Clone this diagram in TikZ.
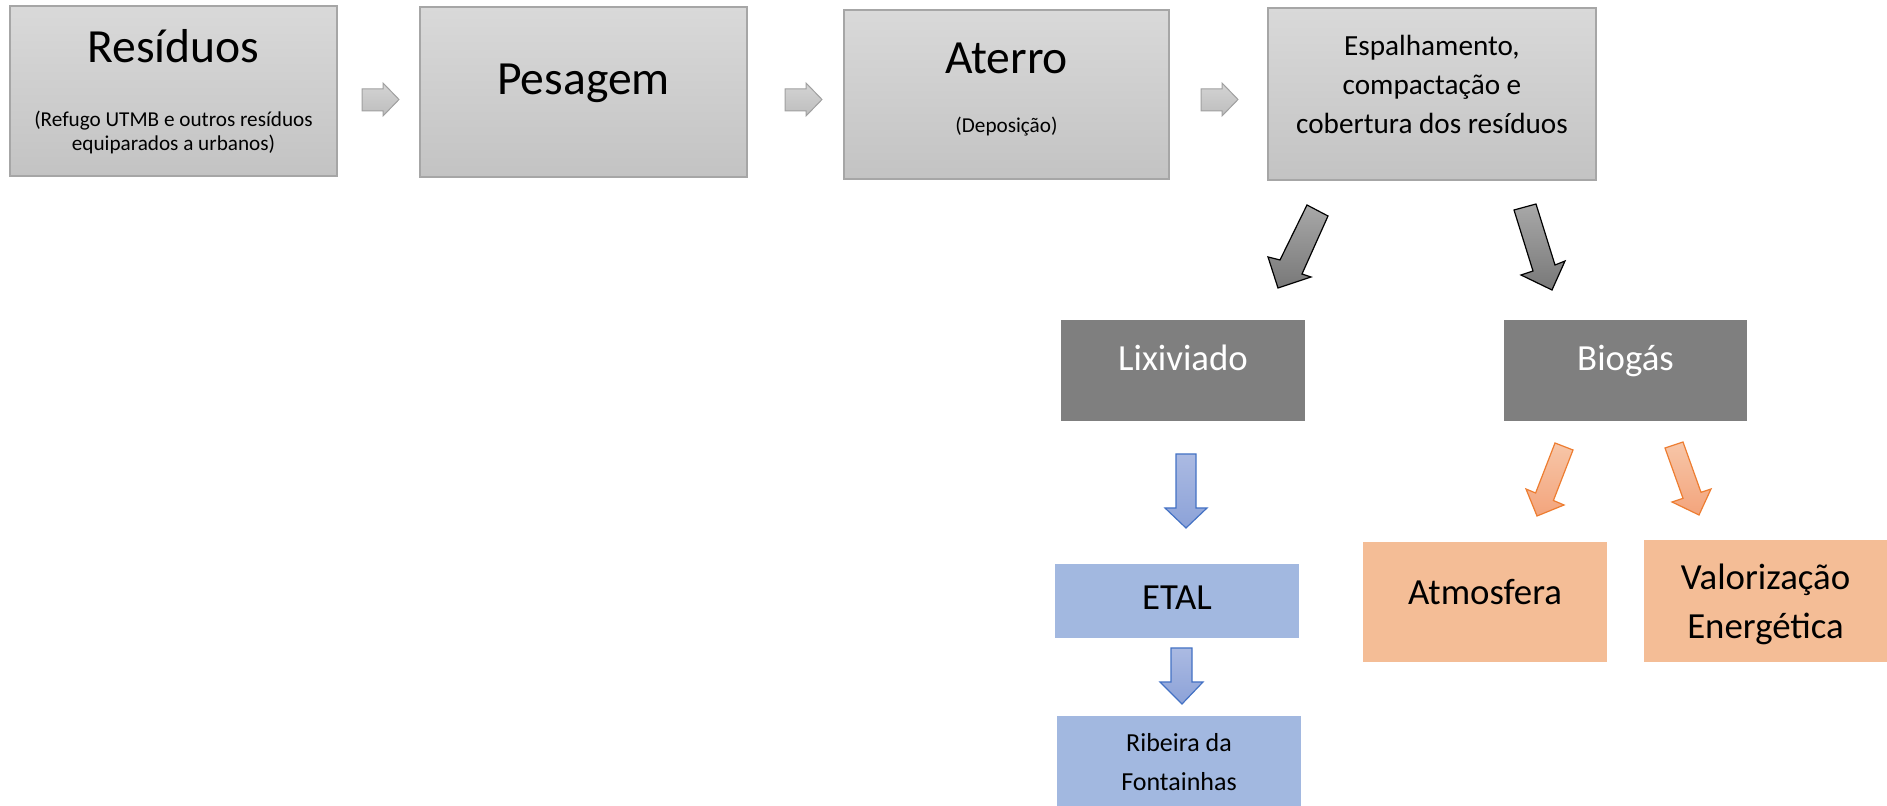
\documentclass[tikz,border=0pt]{standalone}
\usepackage{fontspec}
\setmainfont{Carlito}
\usetikzlibrary{fit}
\definecolor{boxtop}{HTML}{D9D9D9}
\definecolor{boxbot}{HTML}{C3C3C3}
\definecolor{boxline}{HTML}{A6A6A6}
\definecolor{darkfill}{HTML}{7F7F7F}
\definecolor{bluefill}{HTML}{A2B8E0}
\definecolor{orangefill}{HTML}{F4BD96}
\definecolor{bluetop}{HTML}{ABBAE2}
\definecolor{bluebot}{HTML}{8CA2D8}
\definecolor{blueline}{HTML}{4472C4}
\definecolor{oratop}{HTML}{F7C6A8}
\definecolor{orabot}{HTML}{F3A47C}
\definecolor{oraline}{HTML}{ED7D31}
\definecolor{graytop}{HTML}{A8A8A8}
\definecolor{graybot}{HTML}{787878}
\definecolor{smtop}{HTML}{D4D4D4}
\definecolor{smbot}{HTML}{BDBDBD}
\definecolor{smline}{HTML}{A0A0A0}
\begin{document}
\begin{tikzpicture}[x=0.5pt,y=-0.5pt,
  stepbox/.style={inner sep=0pt, draw=boxline, line width=0.6pt, top color=boxtop, bottom color=boxbot},
  greybox/.style={inner sep=0pt, fill=darkfill},
  bluebx/.style={inner sep=0pt, fill=bluefill},
  orbox/.style={inner sep=0pt, fill=orangefill},
  txt/.style={anchor=base, inner sep=0pt, align=center},
  big/.style={txt, font=\fontsize{23.8pt}{28pt}\selectfont},
  small/.style={txt, font=\fontsize{10.6pt}{12pt}\selectfont},
  mid/.style={txt, font=\fontsize{14.6pt}{19.5pt}\selectfont},
  med/.style={txt, font=\fontsize{18.4pt}{24.7pt}\selectfont},
  rib/.style={txt, font=\fontsize{13pt}{19.8pt}\selectfont},
  smallarr/.style={draw=smline, line width=0.5pt, top color=smtop, bottom color=smbot, line join=miter},
  grayarr/.style={draw=black, line width=0.6pt, top color=graytop, bottom color=graybot, line join=miter},
  bluearr/.style={draw=blueline, line width=0.6pt, top color=bluetop, bottom color=bluebot, line join=miter},
  oraarr/.style={draw=oraline, line width=0.6pt, top color=oratop, bottom color=orabot, line join=miter}
]
\useasboundingbox (0,0) rectangle (1887,806);

% boxes
\node[stepbox, fit={(10,6)(337,176)}] (res) {};
\node[stepbox, fit={(420,7)(747,177)}] (pes) {};
\node[stepbox, fit={(844,10)(1169,179)}] (ate) {};
\node[stepbox, fit={(1268,8)(1596,180)}] (esp) {};
\node[greybox, fit={(1061,320)(1305,421)}] (lix) {};
\node[greybox, fit={(1504,320)(1747,421)}] (bio) {};
\node[bluebx, fit={(1055,564)(1299,638)}] (etal) {};
\node[bluebx, fit={(1057,716)(1301,806)}] (ribb) {};
\node[orbox, fit={(1363,542)(1607,662)}] (atm) {};
\node[orbox, fit={(1644,540)(1887,662)}] (val) {};

% texts (multi-line nodes: base = baseline of last line)
\node[big] (res-t) at (173.5,63) {Resíduos};
\node[small] (res-s) at (173.5,151) {(Refugo UTMB e outros resíduos\\equiparados a urbanos)};
\node[big] (pes-t) at (583.5,95) {Pesagem};
\node[big] (ate-t) at (1006.5,74) {Aterro};
\node[small] (ate-s) at (1006.5,133) {(Deposição)};
\node[mid] (esp-t) at (1432,134) {Espalhamento,\\compactação e\\cobertura dos resíduos};
\node[med, text=white] (lix-t) at (1183,371) {Lixiviado};
\node[med, text=white] (bio-t) at (1625.5,371) {Biogás};
\node[med] (etal-t) at (1177,610) {ETAL};
\node[rib] (rib-t) at (1179,791) {Ribeira da\\Fontainhas};
\node[med] (atm-t) at (1485,605) {Atmosfera};
\node[med] (val-t) at (1765.5,639) {Valorização\\Energética};

% small grey arrows between top boxes
\foreach \dx in {0,423,839}{
  \path[smallarr, shift={(\dx,0)}] (362,89) -- (383,89) -- (383,83) -- (399,99.5) -- (383,116) -- (383,111) -- (362,111) -- cycle;
}

% dark grey arrows
\path[grayarr] (1307,205) -- (1280,260) -- (1268,257) -- (1278,288) -- (1311,277) -- (1302,274) -- (1328,216) -- cycle;
\path[grayarr] (1514,210) -- (1533,271) -- (1521,275) -- (1552,290) -- (1565,261) -- (1555,265) -- (1536,204) -- cycle;

% blue arrows
\path[bluearr] (1176,454) -- (1196,454) -- (1196,508) -- (1207,508) -- (1186,528) -- (1165,508) -- (1176,508) -- cycle;
\path[bluearr] (1171,648) -- (1192,648) -- (1192,682) -- (1203,682) -- (1182,704) -- (1160,682) -- (1171,682) -- cycle;

% orange arrows
\path[oraarr] (1555,443) -- (1535.6,493) -- (1526,489) -- (1537,516) -- (1564,505) -- (1553.4,500.5) -- (1573,450) -- cycle;
\path[oraarr] (1665,448) -- (1683,498.3) -- (1672,502) -- (1699,515) -- (1711,489) -- (1701,492.3) -- (1683,442) -- cycle;
\end{tikzpicture}
\end{document}
